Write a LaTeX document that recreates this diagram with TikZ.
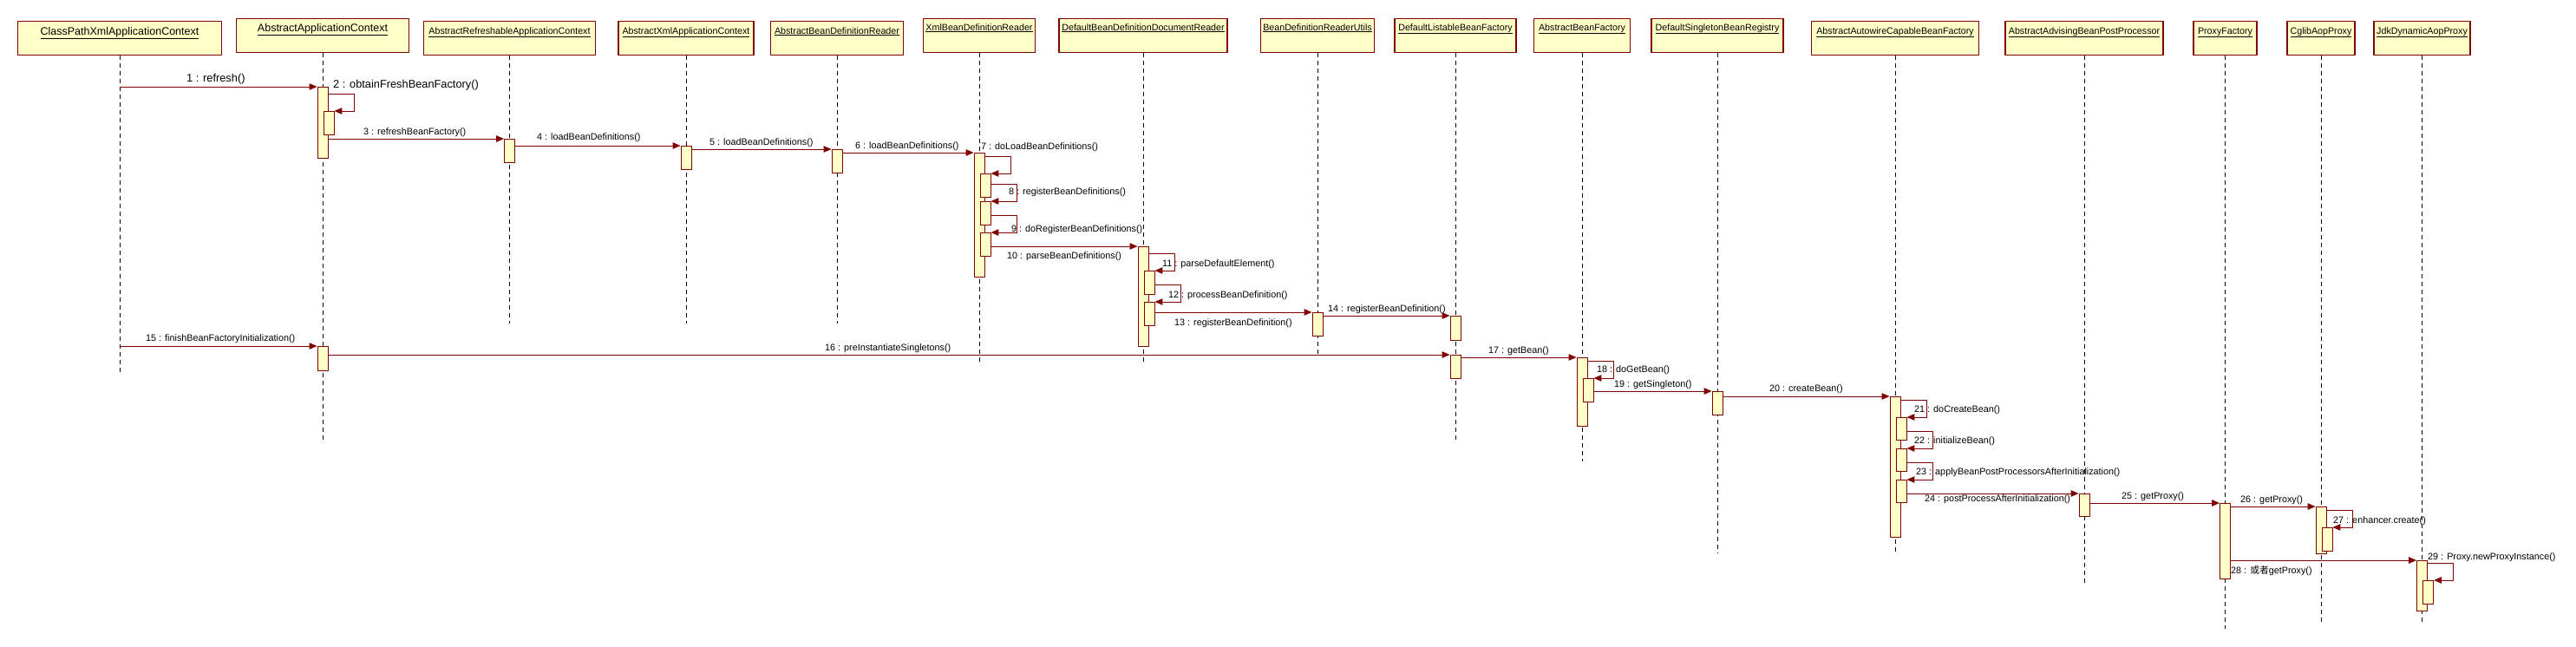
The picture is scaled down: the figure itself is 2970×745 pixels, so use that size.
\documentclass[tikz,border=0pt]{standalone}
\usepackage{fontspec}
\setmainfont{Liberation Sans}
\newfontfamily\cjk{Noto Sans CJK SC}
\usetikzlibrary{arrows.meta,calc}
\definecolor{boxfill}{RGB}{255,255,200}
\definecolor{umlred}{RGB}{128,0,0}
\newcommand\callmsg[2]{\draw[msg] (#1.east |- #2.north) -- (#2.north west);}
\newcommand\selfcall[2]{\draw[msg] ($(#1.east |- #2.north)+(0,-20)$) -- ++(30,0) |- (#2.north east);}
\begin{document}
\begin{tikzpicture}[x=1pt,y=-1pt,
  head/.style={draw=umlred, fill=boxfill, line width=1.1pt, minimum height=39pt, inner sep=0pt, anchor=north},
  ttl/.style={font=\fontsize{10.7}{12}\selectfont, inner sep=0pt, anchor=base},
  bigttl/.style={font=\fontsize{12.5}{14}\selectfont, inner sep=0pt, anchor=base},
  life/.style={draw=black, line width=0.8pt, dash pattern=on 5pt off 4pt},
  act/.style={draw=umlred, fill=boxfill, line width=0.9pt, minimum width=12pt, inner sep=0pt, anchor=north},
  msg/.style={draw=umlred, line width=1pt, -{Triangle[length=9pt,width=7.5pt]}},
  lbl/.style={font=\fontsize{10.8}{12}\selectfont, inner sep=0pt, anchor=base west},
  biglbl/.style={font=\fontsize{12.8}{14}\selectfont, inner sep=0pt, anchor=base west},
]
\useasboundingbox (0,0) rectangle (2970,745);

% ---- heads ----
\node[head, minimum width=235pt] (h1) at (138,24) {};
\node[head, minimum width=199pt] (h2) at (372,21) {};
\node[head, minimum width=198pt] (h3) at (587.5,24) {};
\node[head, minimum width=156pt] (h4) at (791,24) {};
\node[head, minimum width=153pt] (h5) at (965,24) {};
\node[head, minimum width=129pt] (h6) at (1129,21) {};
\node[head, minimum width=194pt] (h7) at (1318,21) {};
\node[head, minimum width=131pt] (h8) at (1519,21) {};
\node[head, minimum width=140pt] (h9) at (1678,21) {};
\node[head, minimum width=111pt] (h10) at (1824,21) {};
\node[head, minimum width=152pt] (h11) at (1980,21) {};
\node[head, minimum width=193pt] (h12) at (2185,24) {};
\node[head, minimum width=182pt] (h13) at (2403,24) {};
\node[head, minimum width=73pt] (h14) at (2565.5,24) {};
\node[head, minimum width=78pt] (h15) at (2676,24) {};
\node[head, minimum width=111pt] (h16) at (2792.5,24) {};

\node[bigttl] (t1) at ($(h1.north)+(0,16.5)$) {\underline{ClassPathXmlApplicationContext}};
\node[bigttl] (t2) at ($(h2.north)+(0,15.5)$) {\underline{AbstractApplicationContext}};
\node[ttl] (t3) at ($(h3.north)+(0,15)$) {\underline{AbstractRefreshableApplicationContext}};
\node[ttl] (t4) at ($(h4.north)+(0,15)$) {\underline{AbstractXmlApplicationContext}};
\node[ttl] (t5) at ($(h5.north)+(0,15)$) {\underline{AbstractBeanDefinitionReader}};
\node[ttl] (t6) at ($(h6.north)+(0,14)$) {\underline{XmlBeanDefinitionReader}};
\node[ttl] (t7) at ($(h7.north)+(0,14)$) {\underline{DefaultBeanDefinitionDocumentReader}};
\node[ttl] (t8) at ($(h8.north)+(0,14)$) {\underline{BeanDefinitionReaderUtils}};
\node[ttl] (t9) at ($(h9.north)+(0,14)$) {\underline{DefaultListableBeanFactory}};
\node[ttl] (t10) at ($(h10.north)+(0,14)$) {\underline{AbstractBeanFactory}};
\node[ttl] (t11) at ($(h11.north)+(0,14)$) {\underline{DefaultSingletonBeanRegistry}};
\node[ttl] (t12) at ($(h12.north)+(0,15)$) {\underline{AbstractAutowireCapableBeanFactory}};
\node[ttl] (t13) at ($(h13.north)+(0,15)$) {\underline{AbstractAdvisingBeanPostProcessor}};
\node[ttl] (t14) at ($(h14.north)+(0,15)$) {\underline{ProxyFactory}};
\node[ttl] (t15) at ($(h15.north)+(0,15)$) {\underline{CglibAopProxy}};
\node[ttl] (t16) at ($(h16.north)+(0,15)$) {\underline{JdkDynamicAopProxy}};

% ---- lifelines ----
\coordinate (e1) at (138,433);
\coordinate (e2) at (372,507);
\coordinate (e3) at (587.5,373);
\coordinate (e4) at (791,373);
\coordinate (e5) at (965,373);
\coordinate (e6) at (1129,417);
\coordinate (e7) at (1318,417);
\coordinate (e8) at (1519,409);
\coordinate (e9) at (1678,507);
\coordinate (e10) at (1824,532);
\coordinate (e11) at (1980,638);
\coordinate (e12) at (2185,637);
\coordinate (e13) at (2403,672);
\coordinate (e14) at (2565.5,725);
\coordinate (e15) at (2676,720);
\coordinate (e16) at (2792.5,720);
\foreach \i in {1,...,16} {\draw[life] (h\i.south) -- (e\i);}

% ---- activation bars ----
\node[act, minimum height=82pt] (A1) at (372,100) {};
\node[act, minimum height=27pt] (A2) at (379,128) {};
\node[act, minimum height=27pt] (AR) at (587.5,160) {};
\node[act, minimum height=27pt] (AX) at (791,168) {};
\node[act, minimum height=27pt] (AB) at (965,172) {};
\node[act, minimum height=143pt] (XB) at (1129,176) {};
\node[act, minimum height=27pt] (X7) at (1136,200) {};
\node[act, minimum height=27pt] (X8) at (1136,232) {};
\node[act, minimum height=27pt] (X9) at (1136,268) {};
\node[act, minimum height=115pt] (DB) at (1318,284) {};
\node[act, minimum height=27pt] (D11) at (1325,312) {};
\node[act, minimum height=27pt] (D12) at (1325,348) {};
\node[act, minimum height=27pt] (BU) at (1519,360) {};
\node[act, minimum height=28pt] (DL1) at (1678,364) {};
\node[act, minimum height=28pt] (A3) at (372,399) {};
\node[act, minimum height=27pt] (DL2) at (1678,409) {};
\node[act, minimum height=79pt] (BF) at (1824,412) {};
\node[act, minimum height=27pt] (F18) at (1831,436) {};
\node[act, minimum height=27pt] (DS) at (1980,451) {};
\node[act, minimum height=162pt] (AC) at (2185,457) {};
\node[act, minimum height=26pt] (C21) at (2192,481) {};
\node[act, minimum height=26pt] (C22) at (2192,517) {};
\node[act, minimum height=26pt] (C23) at (2192,553) {};
\node[act, minimum height=26pt] (PP) at (2403,569) {};
\node[act, minimum height=87pt] (PF) at (2565.5,580) {};
\node[act, minimum height=54pt] (CG) at (2676,584) {};
\node[act, minimum height=27pt] (C27) at (2683,608) {};
\node[act, minimum height=58pt] (JD) at (2792.5,646) {};
\node[act, minimum height=27pt] (J29) at (2799.5,669) {};

% ---- messages ----
\draw[msg] (h1.south |- A1.north) -- (A1.north west);
\selfcall{A1}{A2}
\callmsg{A1}{AR}
\callmsg{AR}{AX}
\callmsg{AX}{AB}
\callmsg{AB}{XB}
\selfcall{XB}{X7}
\selfcall{X7}{X8}
\selfcall{X8}{X9}
\callmsg{X9}{DB}
\selfcall{DB}{D11}
\selfcall{D11}{D12}
\callmsg{D12}{BU}
\callmsg{BU}{DL1}
\draw[msg] (h1.south |- A3.north) -- (A3.north west);
\callmsg{A3}{DL2}
\callmsg{DL2}{BF}
\selfcall{BF}{F18}
\callmsg{F18}{DS}
\callmsg{DS}{AC}
\selfcall{AC}{C21}
\selfcall{C21}{C22}
\selfcall{C22}{C23}
\callmsg{C23}{PP}
\callmsg{PP}{PF}
\callmsg{PF}{CG}
\selfcall{CG}{C27}
\callmsg{PF}{JD}
\selfcall{JD}{J29}

% ---- labels ----
\node[biglbl] (l1) at (215,94.5) {1 : refresh()};
\node[biglbl] (l2) at (384,101.5) {2 : obtainFreshBeanFactory()};
\node[lbl] (l3) at (419,155) {3 : refreshBeanFactory()};
\node[lbl] (l4) at (619,161) {4 : loadBeanDefinitions()};
\node[lbl] (l5) at (818,167) {5 : loadBeanDefinitions()};
\node[lbl] (l6) at (986,171) {6 : loadBeanDefinitions()};
\node[lbl] (l7) at (1131,172) {7 : doLoadBeanDefinitions()};
\node[lbl] (l8) at (1163,224) {8 : registerBeanDefinitions()};
\node[lbl] (l9) at (1166,267) {9 : doRegisterBeanDefinitions()};
\node[lbl] (l10) at (1161,298) {10 : parseBeanDefinitions()};
\node[lbl] (l11) at (1340,307) {11 : parseDefaultElement()};
\node[lbl] (l12) at (1347,343) {12 : processBeanDefinition()};
\node[lbl] (l13) at (1354,375) {13 : registerBeanDefinition()};
\node[lbl] (l14) at (1531,359) {14 : registerBeanDefinition()};
\node[lbl] (l15) at (168,393) {15 : finishBeanFactoryInitialization()};
\node[lbl] (l16) at (951,404) {16 : preInstantiateSingletons()};
\node[lbl] (l17) at (1716,407) {17 : getBean()};
\node[lbl] (l18) at (1841,429) {18 : doGetBean()};
\node[lbl] (l19) at (1861,446) {19 : getSingleton()};
\node[lbl] (l20) at (2040,451) {20 : createBean()};
\node[lbl] (l21) at (2207,475) {21 : doCreateBean()};
\node[lbl] (l22) at (2207,511) {22 : initializeBean()};
\node[lbl] (l23) at (2209,547) {23 : applyBeanPostProcessorsAfterInitialization()};
\node[lbl] (l24) at (2219,578) {24 : postProcessAfterInitialization()};
\node[lbl] (l25) at (2446,575) {25 : getProxy()};
\node[lbl] (l26) at (2583,579) {26 : getProxy()};
\node[lbl] (l27) at (2690,603) {27 : enhancer.create()};
\node[lbl] (l28) at (2572,661) {28 : {\cjk 或者}getProxy()};
\node[lbl] (l29) at (2799,645) {29 : Proxy.newProxyInstance()};
\end{tikzpicture}
\end{document}
